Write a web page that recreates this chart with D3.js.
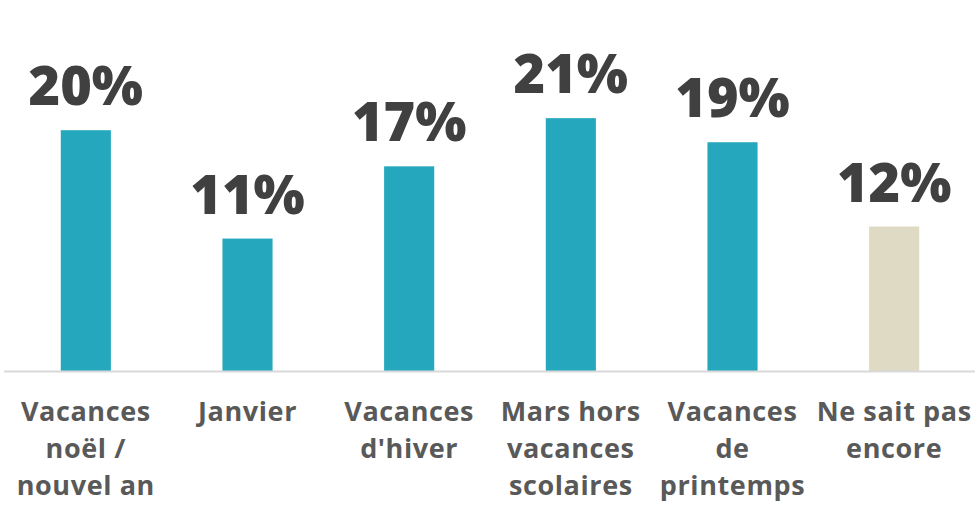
<!DOCTYPE html>
<html>
<head>
<meta charset="utf-8">
<script src="https://cdn.jsdelivr.net/npm/d3@7"></script>
<style>
  html, body { margin: 0; padding: 0; background: #ffffff; }
</style>
</head>
<body>
<div id="chart"></div>
<script>
// Data
var categories = [
  ["Vacances", "noël /", "nouvel an"],
  ["Janvier"],
  ["Vacances", "d'hiver"],
  ["Mars hors", "vacances", "scolaires"],
  ["Vacances", "de", "printemps"],
  ["Ne sait pas", "encore"],
];
var values = [20, 11, 17, 21, 19, 12];
var barColors = ["#25A7BD", "#25A7BD", "#25A7BD", "#25A7BD", "#25A7BD", "#DFDAC3"];

var width = 979;
var height = 506;
var baseline = 371;

var svg = d3
  .select("#chart")
  .append("svg")
  .attr("width", width)
  .attr("height", height);

var x = d3
  .scaleBand()
  .domain(d3.range(values.length))
  .range([5, 975])
  .paddingInner(0.69)
  .paddingOuter(0.345);

// 1% is roughly 12 px
var y = d3.scaleLinear().domain([0, 25]).range([baseline, baseline - 301]);

// Bars
svg
  .selectAll("rect.bar")
  .data(values)
  .enter()
  .append("rect")
  .attr("class", "bar")
  .attr("x", function (d, i) { return x(i); })
  .attr("y", function (d) { return y(d); })
  .attr("width", x.bandwidth())
  .attr("height", function (d) { return y(0) - y(d); })
  .attr("fill", function (d, i) { return barColors[i]; });

// Baseline
svg
  .append("line")
  .attr("x1", 4)
  .attr("x2", 975)
  .attr("y1", baseline + 0.5)
  .attr("y2", baseline + 0.5)
  .attr("stroke", "#D9D9D9")
  .attr("stroke-width", 2);

// Value labels
svg
  .selectAll("text.value")
  .data(values)
  .enter()
  .append("text")
  .attr("class", "value")
  .attr("x", function (d, i) { return x(i) + x.bandwidth() / 2; })
  .attr("y", function (d) { return y(d) - 25; })
  .attr("text-anchor", "middle")
  .style("font-family", "'Open Sans', sans-serif")
  .style("font-weight", 800)
  .style("font-size", "54px")
  .style("fill", "#404040")
  .text(function (d) { return d + "%"; });

// Category labels, one tspan per line
var catGroups = svg
  .selectAll("text.cat")
  .data(categories)
  .enter()
  .append("text")
  .attr("class", "cat")
  .attr("text-anchor", "middle")
  .style("font-family", "'Open Sans', sans-serif")
  .style("font-weight", 700)
  .style("font-size", "27px")
  .style("letter-spacing", "0.6px")
  .style("fill", "#595959");

catGroups
  .selectAll("tspan")
  .data(function (d, i) { return d.map(function (t) { return { t: t, i: i }; }); })
  .enter()
  .append("tspan")
  .attr("x", function (d) { return x(d.i) + x.bandwidth() / 2; })
  .attr("y", function (d, j) { return 421 + j * 37; })
  .text(function (d) { return d.t; });
</script>
</body>
</html>
